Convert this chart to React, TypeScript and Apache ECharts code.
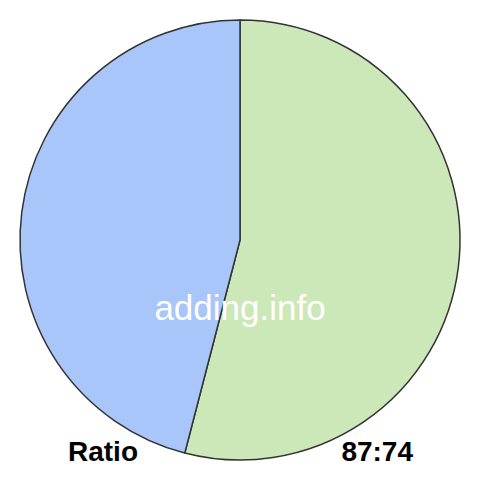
import React, { useEffect, useRef } from "react";
import * as echarts from "echarts";

const categories = ["A", "B"];
const values = [87, 74];
const colors = ["#cde8b8", "#a8c6fa"];
const leftLabel = "Ratio";
const rightLabel = "87:74";
const watermark = "adding.info";

export default function App() {
  const ref = useRef<HTMLDivElement>(null);
  useEffect(() => {
    document.body.style.margin = "0";
    const chart = echarts.init(ref.current!, null, { renderer: "svg" });
    chart.setOption({
      animation: false,
      series: [
        {
          type: "pie",
          center: [240, 240],
          radius: [0, 220],
          startAngle: 90,
          clockwise: true,
          label: { show: false },
          labelLine: { show: false },
          emphasis: { disabled: true },
          itemStyle: { borderColor: "#333333", borderWidth: 1.5 },
          data: categories.map((c, i) => ({
            name: c,
            value: values[i],
            itemStyle: { color: colors[i] },
          })),
        },
      ],
      graphic: [
        {
          type: "text",
          z: 100,
          x: 240,
          y: 307,
          style: {
            text: watermark,
            fill: "#ffffff",
            font: "35px 'Liberation Sans', Arial, sans-serif",
            textAlign: "center",
            textVerticalAlign: "middle",
          },
        },
        {
          type: "text",
          z: 100,
          x: 68,
          y: 451,
          style: {
            text: leftLabel,
            fill: "#000000",
            font: "bold 28px 'Liberation Sans', Arial, sans-serif",
            textAlign: "left",
            textVerticalAlign: "middle",
          },
        },
        {
          type: "text",
          z: 100,
          x: 413,
          y: 451,
          style: {
            text: rightLabel,
            fill: "#000000",
            font: "bold 28px 'Liberation Sans', Arial, sans-serif",
            textAlign: "right",
            textVerticalAlign: "middle",
          },
        },
      ],
    });
    return () => chart.dispose();
  }, []);
  return <div ref={ref} style={{ width: 480, height: 480 }} />;
}
